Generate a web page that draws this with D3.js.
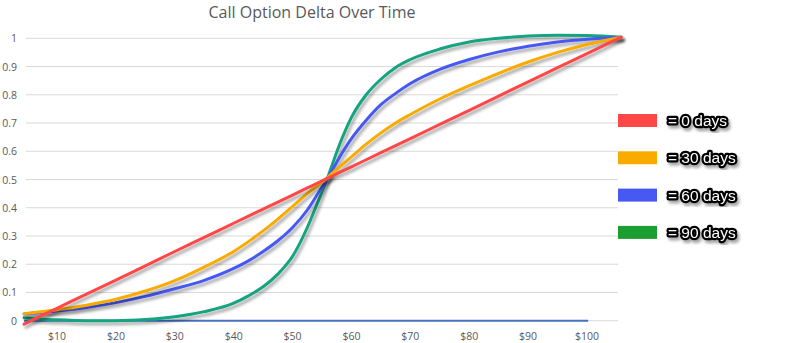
<!DOCTYPE html>
<html>
<head>
<meta charset="utf-8">
<script src="https://cdn.jsdelivr.net/npm/d3@7"></script>
<style>
  body { margin: 0; background: #fff; }
  svg { display: block; }
</style>
</head>
<body>
<script>
var w = 785;
var h = 343;

// underlying price ($) where each curve is read
var prices = [4.4, 10, 15, 20, 25, 30, 35, 40, 42.5, 45, 47.5, 50, 52.5, 54, 56, 58, 60, 62.5, 65, 67.5, 70, 75, 80, 85, 90, 95, 100, 105.8];

var delta0 = [-0.012, 0.044, 0.094, 0.144, 0.194, 0.245, 0.295, 0.345, 0.37, 0.395, 0.42, 0.445, 0.47, 0.485, 0.505, 0.525, 0.545, 0.57, 0.595, 0.62, 0.645, 0.695, 0.745, 0.795, 0.846, 0.896, 0.946, 1.004];
var delta30 = [0.025, 0.039, 0.055, 0.076, 0.105, 0.142, 0.19, 0.245, 0.28, 0.318, 0.36, 0.405, 0.45, 0.475, 0.508, 0.545, 0.58, 0.625, 0.665, 0.7, 0.73, 0.785, 0.832, 0.876, 0.916, 0.95, 0.978, 1.004];
var delta60 = [0.024, 0.034, 0.047, 0.064, 0.086, 0.113, 0.143, 0.185, 0.212, 0.245, 0.283, 0.33, 0.392, 0.44, 0.506, 0.58, 0.645, 0.71, 0.765, 0.805, 0.84, 0.89, 0.925, 0.952, 0.972, 0.987, 0.997, 1.004];
var delta90 = [0.01, 0.003, 0, 0, 0.004, 0.014, 0.032, 0.062, 0.088, 0.12, 0.165, 0.228, 0.33, 0.405, 0.51, 0.625, 0.72, 0.8, 0.855, 0.897, 0.925, 0.962, 0.987, 1.0, 1.008, 1.011, 1.01, 1.004];

var zeroPrices = [4.4, 100.2];
var zeroValues = [0, 0];

var legendLabels = ["= 0 days", "= 30 days", "= 60 days", "= 90 days"];
var lineColors = ["#ff4747", "#f9ab00", "#4759f2", "#14a37f"];
var legendColors = ["#ff4747", "#f9ab00", "#4759f2", "#1d9e32"];

var xTicks = [10, 20, 30, 40, 50, 60, 70, 80, 90, 100];
var yTicks = [0, 0.1, 0.2, 0.3, 0.4, 0.5, 0.6, 0.7, 0.8, 0.9, 1];

var svg = d3.select("body")
    .append("svg")
    .attr("width", w)
    .attr("height", h);

var defs = svg.append("defs");
defs.append("filter")
    .attr("id", "shadow")
    .attr("x", "-10%").attr("y", "-10%")
    .attr("width", "130%").attr("height", "130%")
  .append("feDropShadow")
    .attr("dx", 2).attr("dy", 3)
    .attr("stdDeviation", 1.8)
    .attr("flood-color", "#000")
    .attr("flood-opacity", 0.35);

var x = d3.scaleLinear().domain([10, 100]).range([57, 587]);
var y = d3.scaleLinear().domain([0, 1]).range([320.7, 38.3]);

// gridlines
svg.selectAll(".grid")
    .data(yTicks)
    .enter()
    .append("line")
    .attr("class", "grid")
    .attr("x1", 26)
    .attr("x2", 618)
    .attr("y1", function(d){ return y(d); })
    .attr("y2", function(d){ return y(d); })
    .style("stroke", "#d9d9d9")
    .style("stroke-width", 1);

// y labels
svg.selectAll(".ylab")
    .data(yTicks)
    .enter()
    .append("text")
    .attr("class", "ylab")
    .attr("x", 17)
    .attr("y", function(d){ return y(d) + 4; })
    .attr("text-anchor", "end")
    .style("font-family", "'Open Sans', sans-serif")
    .style("font-size", "10.5px")
    .style("fill", "#595959")
    .text(function(d){ return d3.format("~g")(d); });

// x labels
svg.selectAll(".xlab")
    .data(xTicks)
    .enter()
    .append("text")
    .attr("class", "xlab")
    .attr("x", function(d){ return x(d); })
    .attr("y", 340)
    .attr("text-anchor", "middle")
    .style("font-family", "'Open Sans', sans-serif")
    .style("font-size", "10.5px")
    .style("fill", "#595959")
    .text(function(d){ return "$" + d; });

// title
svg.append("text")
    .attr("x", 312)
    .attr("y", 18)
    .attr("text-anchor", "middle")
    .style("font-family", "'Open Sans', sans-serif")
    .style("font-size", "16px")
    .style("fill", "#595959")
    .text("Call Option Delta Over Time");

var line = d3.line()
    .x(function(d){ return x(d[0]); })
    .y(function(d){ return y(d[1]); })
    .curve(d3.curveMonotoneX);

// flat zero line
svg.append("path")
    .datum(d3.zip(zeroPrices, zeroValues))
    .attr("d", d3.line().x(function(d){ return x(d[0]); }).y(function(d){ return y(d[1]); }))
    .style("fill", "none")
    .style("stroke", "#4472c4")
    .style("stroke-width", 2);

// curves, red on top
var series = [delta0, delta30, delta60, delta90];
var order = [3, 2, 1, 0];
order.forEach(function(i){
  svg.append("path")
      .datum(d3.zip(prices, series[i]))
      .attr("d", line)
      .attr("filter", "url(#shadow)")
      .style("fill", "none")
      .style("stroke", lineColors[i])
      .style("stroke-width", 3)
      .style("stroke-linecap", "round");
});

// legend
var leg = svg.selectAll(".leg")
    .data(legendLabels)
    .enter()
    .append("g")
    .attr("class", "leg")
    .attr("transform", function(d, i){ return "translate(618," + (114 + i * 37.3) + ")"; });

leg.append("rect")
    .attr("width", 39)
    .attr("height", 13)
    .style("fill", function(d, i){ return legendColors[i]; });

leg.append("text")
    .attr("x", 50)
    .attr("y", 12)
    .attr("filter", "url(#shadow)")
    .style("font-family", "'Liberation Sans Narrow', 'Liberation Sans', sans-serif")
    .style("font-size", "15.5px")
    .style("fill", "#fff")
    .style("stroke", "#000")
    .style("stroke-width", 4.5)
    .style("stroke-linejoin", "round")
    .style("paint-order", "stroke")
    .text(function(d){ return d; });
</script>
</body>
</html>
